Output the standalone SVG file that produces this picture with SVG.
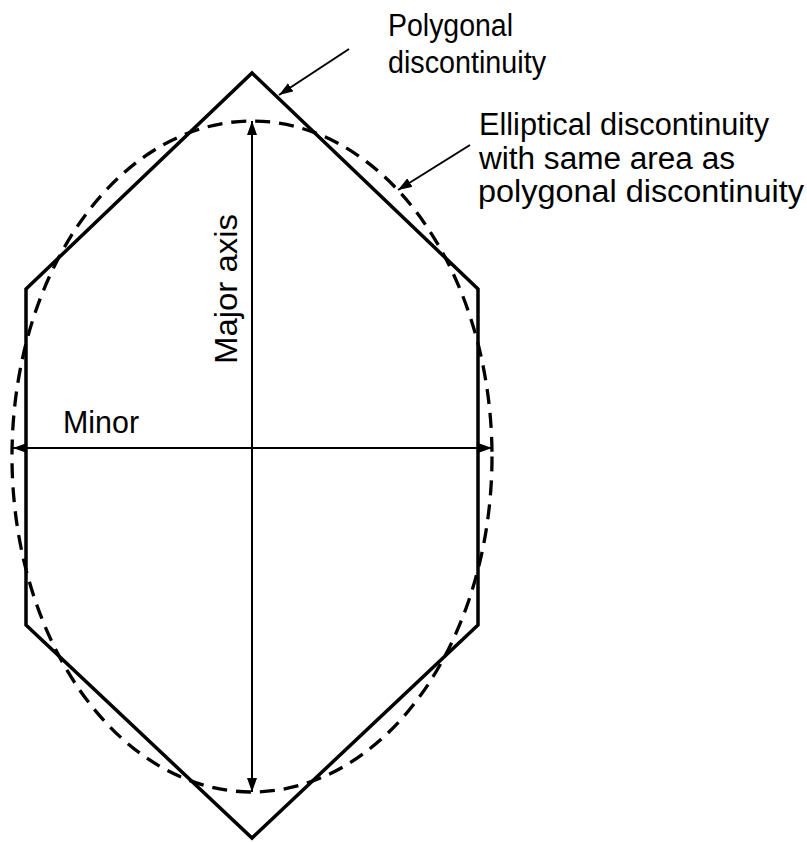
<svg xmlns="http://www.w3.org/2000/svg" width="807" height="842" viewBox="0 0 807 842">
<defs>
<marker id="ah" viewBox="0 0 14 10" refX="14" refY="5" markerWidth="14" markerHeight="10" markerUnits="userSpaceOnUse" orient="auto-start-reverse">
<path d="M0,0 L14,5 L0,10 Z" fill="#000"/>
</marker>
</defs>
<style>
.t{font-family:"Liberation Sans",Arial,Helvetica,sans-serif;font-size:31px;fill:#000}
.poly{fill:none;stroke:#000;stroke-width:3.5;stroke-linejoin:miter}
.ell{fill:none;stroke:#000;stroke-width:3.3;stroke-dasharray:15 9}
.ax{fill:none;stroke:#000;stroke-width:2}
</style>
<rect width="807" height="842" fill="#fff"/>
<g id="polygon">
<polygon class="poly" points="252,73 478,289 478,625 252,838 26,625 26,289"/>
</g>
<g id="ellipse">
<ellipse class="ell" cx="252" cy="456.5" rx="240" ry="335.5"/>
</g>
<g id="connectors">
<line class="ax" x1="252" y1="121" x2="252" y2="792" marker-start="url(#ah)" marker-end="url(#ah)"/>
<line class="ax" x1="13" y1="448" x2="492" y2="448" marker-start="url(#ah)" marker-end="url(#ah)"/>
<line class="ax" x1="349" y1="49" x2="279" y2="95" marker-end="url(#ah)"/>
<line class="ax" x1="470" y1="145" x2="398" y2="190" marker-end="url(#ah)"/>
</g>
<g id="label-polygonal">
<text class="t" x="388" y="36" textLength="125" lengthAdjust="spacingAndGlyphs">Polygonal</text>
<text class="t" x="388" y="73" textLength="158" lengthAdjust="spacingAndGlyphs">discontinuity</text>
</g>
<g id="label-elliptical">
<text class="t" x="479" y="135" textLength="290" lengthAdjust="spacingAndGlyphs">Elliptical discontinuity</text>
<text class="t" x="479" y="168.5" textLength="256" lengthAdjust="spacingAndGlyphs">with same area as</text>
<text class="t" x="478" y="202" textLength="326" lengthAdjust="spacingAndGlyphs">polygonal discontinuity</text>
</g>
<g id="label-minor">
<text class="t" x="63" y="433" textLength="76" lengthAdjust="spacingAndGlyphs">Minor</text>
</g>
<g id="label-major">
<text class="t" transform="translate(237,364) rotate(-90)" x="0" y="0" textLength="150" lengthAdjust="spacingAndGlyphs">Major axis</text>
</g>
</svg>
